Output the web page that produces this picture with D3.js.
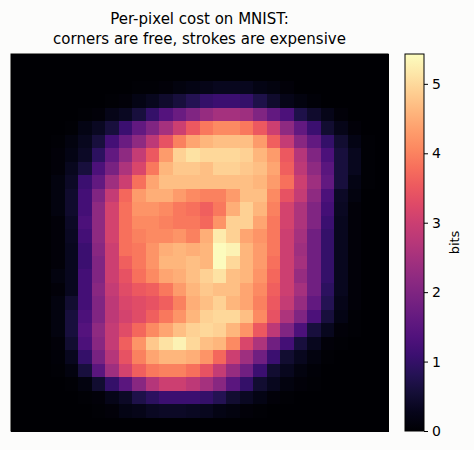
<!DOCTYPE html>
<html>
<head>
<meta charset="utf-8">
<script src="https://cdn.jsdelivr.net/npm/d3@7"></script>
<style>
  body { margin: 0; background: #fcfcfb; }
  svg { font-family: "DejaVu Sans", sans-serif; }
</style>
</head>
<body>
<div id="chart"></div>
<script>
// per-pixel cost in bits, 28x28 (row 0 = top)
const costRows = [
  [0,0,0,0,0,0,0,0,0,0,0,0,0,0,0,0,0,0,0,0,0,0,0,0,0,0,0,0],
  [0,0,0,0,0,0,0,0,0,0,0,0,0,0,0,0,0,0,0,0,0,0,0,0,0,0,0,0],
  [0,0,0,0,0,0,0,0,0,.05,.05,.1,.15,.2,.25,.3,.3,.3,.2,.15,.1,0,0,0,0,0,0,0],
  [0,0,0,0,0,0,0,.05,.1,.2,.3,.45,.6,.8,1.0,1.1,1.1,1.0,.7,.45,.25,.15,.08,0,0,0,0,0],
  [0,0,0,0,0,.05,.1,.25,.35,.6,1.0,1.4,1.7,2.0,2.3,2.5,2.5,2.4,2.0,1.6,1.3,.7,.45,.25,.1,0,0,0],
  [0,0,0,0,.05,.2,.35,.6,1.1,1.6,2.0,2.5,3.0,3.5,3.9,4.1,4.1,3.9,3.5,3.0,2.2,1.6,1.1,.5,.25,.1,0,0],
  [0,0,0,.05,.15,.3,.6,1.2,1.7,2.2,2.8,3.4,4.0,4.4,4.6,4.7,4.7,4.7,4.3,3.6,2.9,2.1,1.6,1.0,.5,.2,.05,0],
  [0,0,0,.1,.2,.4,.9,1.6,2.2,2.9,3.5,4.3,4.9,5.1,5.0,5.0,5.0,4.9,4.6,4.3,3.5,2.7,2.0,1.3,.6,.3,.05,0],
  [0,0,0,.1,.3,.6,1.3,1.9,2.6,3.2,3.9,4.6,4.8,4.8,4.7,4.9,4.9,4.8,4.7,4.4,3.6,2.8,2.2,1.5,.6,.3,.05,0],
  [0,0,0,.15,.4,1.1,1.6,2.4,3.0,3.8,4.4,4.7,4.7,4.7,4.7,4.7,4.7,4.7,4.6,4.3,3.8,3.0,2.4,1.6,.6,.2,.05,0],
  [0,0,0,.15,.45,1.2,2.0,2.9,3.7,4.3,4.5,4.5,4.3,4.1,4.0,4.0,4.3,4.7,4.7,4.1,3.4,2.9,2.2,1.3,.4,.15,0,0],
  [0,0,0,.15,.45,1.2,2.2,3.1,3.8,4.2,4.2,4.1,3.9,3.8,3.6,3.9,4.5,4.9,4.6,4.0,3.1,2.6,2.0,1.2,.35,.1,0,0],
  [0,0,0,.1,.4,1.3,2.2,3.1,3.8,4.1,4.1,4.0,3.9,3.9,3.7,4.2,4.9,4.9,4.4,3.9,3.1,2.6,2.0,1.1,.3,.1,0,0],
  [0,0,0,.1,.35,1.2,2.2,3.1,3.8,4.0,4.1,4.1,4.2,4.0,4.5,5.2,4.9,4.4,4.2,3.9,3.0,2.5,1.8,1.0,.3,.1,0,0],
  [0,0,0,.1,.3,1.1,2.1,3.0,3.8,3.9,4.2,4.5,4.6,4.5,4.6,5.4,5.3,4.6,4.3,3.9,3.0,2.4,1.8,1.0,.3,.1,0,0],
  [0,0,0,.1,.3,1.1,2.0,3.0,3.6,3.9,4.2,4.6,4.6,4.7,4.6,5.4,5.0,4.6,4.3,3.8,3.0,2.5,1.8,1.0,.3,.1,0,0],
  [0,0,0,.15,.3,1.2,2.0,3.0,3.4,3.8,4.1,4.4,4.5,4.7,4.9,5.1,4.7,4.6,4.2,3.7,3.0,2.3,1.8,1.0,.3,.1,0,0],
  [0,0,0,.1,.3,1.2,2.1,2.9,3.3,3.5,3.6,3.9,4.3,4.6,4.8,4.7,4.7,4.4,4.1,3.6,3.0,2.5,1.8,.9,.3,.1,0,0],
  [0,0,0,.15,.5,1.2,2.0,2.8,3.2,3.3,3.4,3.6,4.0,4.5,4.7,4.9,4.6,4.4,4.0,3.5,2.9,2.3,1.6,.8,.25,.1,0,0],
  [0,0,0,.15,.6,1.3,2.0,2.8,3.1,3.3,3.6,3.9,4.2,4.6,4.9,5.0,5.0,4.7,4.1,3.4,2.6,2.0,1.3,.6,.2,.05,0,0],
  [0,0,0,.15,.6,1.4,2.2,2.9,3.3,3.7,4.1,4.4,4.7,4.9,5.0,4.9,4.6,4.2,3.5,2.8,2.0,1.3,.6,.3,.1,.05,0,0],
  [0,0,0,.1,.5,1.3,2.1,2.9,3.6,4.2,4.8,5.1,5.3,5.0,4.7,4.6,4.1,3.2,2.6,1.8,1.2,.6,.3,.1,.05,0,0,0],
  [0,0,0,.08,.3,1.0,1.9,2.7,3.4,4.0,4.4,4.6,4.6,4.5,4.2,3.7,3.0,2.4,1.8,1.1,.5,.3,.15,.05,0,0,0,0],
  [0,0,0,.05,.15,.6,1.5,2.4,3.1,3.6,3.9,4.0,4.0,3.8,3.4,2.9,2.3,1.8,1.1,.5,.3,.15,.08,0,0,0,0,0],
  [0,0,0,0,.05,.15,.5,1.0,1.5,2.1,2.7,3.0,3.0,2.8,2.5,2.1,1.5,1.0,.5,.3,.15,.1,.05,0,0,0,0,0],
  [0,0,0,0,0,.05,.1,.25,.4,.7,.9,1.1,1.1,1.1,1.0,.8,.5,.35,.2,.1,.05,0,0,0,0,0,0,0],
  [0,0,0,0,0,0,.05,.1,.2,.25,.35,.4,.4,.35,.3,.2,.15,.1,.05,0,0,0,0,0,0,0,0,0],
  [0,0,0,0,0,0,0,0,0,.02,.02,.02,.02,.02,.02,.02,.02,0,0,0,0,0,0,0,0,0,0,0]
];
const colorTicks = [0, 1, 2, 3, 4, 5];
const titleLines = ["Per-pixel cost on MNIST:", "corners are free, strokes are expensive"];
const colorLabel = "bits";
const vmax = 5.43;

const W = 474, H = 450;
const plot = {x: 11, y: 54, size: 377};
const bar = {x: 405, y: 54, w: 19, h: 377};

const svg = d3.select("#chart").append("svg")
  .attr("width", W).attr("height", H);

const idx = d3.range(28);
const x = d3.scaleBand().domain(idx).range([plot.x, plot.x + plot.size]);
const y = d3.scaleBand().domain(idx).range([plot.y, plot.y + plot.size]);
const color = d3.scaleSequential(d3.interpolateMagma).domain([0, vmax]);

const cells = [];
costRows.forEach((row, r) => row.forEach((v, c) => cells.push({r, c, v})));

svg.append("g")
  .attr("shape-rendering", "crispEdges")
  .selectAll("rect")
  .data(cells)
  .join("rect")
  .attr("x", d => x(d.c))
  .attr("y", d => y(d.r))
  .attr("width", x.bandwidth() + 1)
  .attr("height", y.bandwidth() + 1)
  .attr("fill", d => color(d.v));

svg.append("rect")
  .attr("x", plot.x).attr("y", plot.y)
  .attr("width", plot.size).attr("height", plot.size)
  .attr("fill", "none").attr("stroke", "#000").attr("stroke-width", 1);

svg.append("g").selectAll("text")
  .data(titleLines)
  .join("text")
  .attr("x", plot.x + plot.size / 2)
  .attr("y", (d, i) => 24 + i * 20)
  .attr("text-anchor", "middle")
  .attr("font-size", 15)
  .attr("fill", "#000")
  .text(d => d);

// colorbar
const defs = svg.append("defs");
const grad = defs.append("linearGradient")
  .attr("id", "cbar").attr("x1", 0).attr("y1", 1).attr("x2", 0).attr("y2", 0);
d3.range(0, 1.0001, 0.05).forEach(t => {
  grad.append("stop").attr("offset", t).attr("stop-color", color(t * vmax));
});
svg.append("rect")
  .attr("x", bar.x).attr("y", bar.y)
  .attr("width", bar.w).attr("height", bar.h)
  .attr("fill", "url(#cbar)")
  .attr("stroke", "#000").attr("stroke-width", 1);

const cy = d3.scaleLinear().domain([0, vmax]).range([bar.y + bar.h, bar.y]);
const axis = svg.append("g")
  .attr("transform", `translate(${bar.x + bar.w},0)`)
  .call(d3.axisRight(cy).tickValues(colorTicks).tickFormat(d3.format("d")).tickSize(4).tickPadding(4));
axis.select(".domain").remove();
axis.selectAll("text").attr("font-size", 14).attr("font-family", "DejaVu Sans");

svg.append("text")
  .attr("transform", `translate(459,${bar.y + bar.h / 2}) rotate(-90)`)
  .attr("text-anchor", "middle")
  .attr("font-size", 13)
  .text(colorLabel);
</script>
</body>
</html>
